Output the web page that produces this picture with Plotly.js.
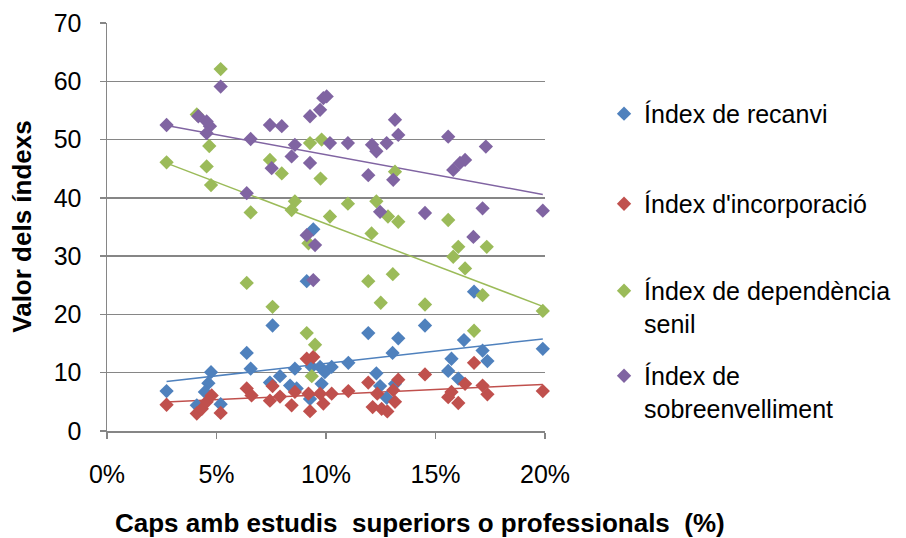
<!DOCTYPE html>
<html>
<head>
<meta charset="utf-8">
<script src="https://cdn.plot.ly/plotly-3.0.1.min.js"></script>
<style>html,body{margin:0;padding:0;background:#fff;}#chart{width:906px;height:538px;}</style>
</head>
<body>
<div id="chart"></div>
<script>
// Índex de recanvi
const recanviX = [2.72,4.75,4.63,4.47,4.1,5.19,6.38,6.56,7.56,7.44,7.9,8.36,8.66,8.58,9.12,9.42,9.35,9.73,9.8,9.27,10.26,9.95,11.02,11.93,12.3,12.47,12.77,13.04,13.3,14.52,15.73,15.58,16.04,16.3,16.76,17.15,17.37,19.9,13.15];
const recanviY = [6.85,10.1,8.2,6.7,4.4,4.6,13.4,10.7,18.1,8.3,9.4,7.8,7.3,10.7,25.7,34.6,11.0,11.0,8.1,5.5,11.0,10.1,11.7,16.8,9.9,7.7,5.7,13.4,15.9,18.1,12.4,10.3,9.0,15.6,23.9,13.8,12.0,14.1,8.1];
// Índex d'incorporació
const incorpX = [2.72,4.1,4.33,4.55,4.78,5.19,6.38,6.6,7.56,7.44,7.9,8.43,8.58,9.12,9.42,9.27,9.2,9.73,9.88,10.26,11.02,11.93,12.34,12.13,12.54,12.8,13.07,13.3,13.15,14.52,15.73,15.58,16.04,16.35,16.76,17.15,17.37,19.9];
const incorpY = [4.5,3.0,3.8,5.0,6.1,3.1,7.3,6.1,7.7,5.2,5.9,4.4,6.7,12.4,12.7,3.4,6.4,6.4,4.7,6.4,6.85,8.3,6.4,4.1,3.8,3.35,7.0,8.8,5.0,9.7,6.7,5.8,4.8,8.1,11.7,7.8,6.3,6.85];
// Índex de dependència senil
const senilX = [2.72,5.19,4.1,4.67,4.55,4.75,6.56,7.44,7.98,8.58,8.43,9.27,9.8,9.75,10.18,13.15,11.0,12.3,12.83,13.3,15.58,6.38,7.56,9.12,9.5,9.35,9.2,12.08,16.04,15.81,17.34,16.35,11.93,13.05,12.5,14.52,17.15,19.9,16.76];
const senilY = [46.1,62.1,54.3,48.9,45.4,42.2,37.5,46.5,44.2,39.4,37.9,49.4,50.0,43.3,36.8,44.5,39.0,39.4,36.8,35.9,36.2,25.4,21.3,16.8,14.8,9.4,32.2,33.9,31.6,29.9,31.6,27.9,25.7,26.9,22.0,21.7,23.3,20.6,17.2];
// Índex de sobreenvelliment
const sobreX = [2.72,5.19,4.17,4.55,4.7,4.55,6.56,7.44,7.98,7.52,6.38,8.58,8.43,9.27,9.27,9.73,9.88,10.03,10.18,11.0,12.1,12.3,12.77,13.15,13.3,11.93,13.07,15.58,17.3,15.81,16.12,16.35,12.47,14.52,17.15,19.9,16.73,9.12,9.5,9.42];
const sobreY = [52.5,59.1,54.0,53.1,52.3,51.1,50.1,52.5,52.3,45.1,40.8,49.1,47.1,46.0,54.0,55.1,57.1,57.4,49.4,49.4,49.1,48.0,49.4,53.4,50.8,43.9,43.1,50.5,48.8,44.8,46.0,46.5,37.6,37.4,38.2,37.8,33.3,33.6,31.9,25.9];

const seriesNames = ["Índex de recanvi", "Índex d'incorporació", "Índex de dependència<br>senil", "Índex de<br>sobreenvelliment"];
const seriesColors = ["#4F81BD", "#C0504D", "#9BBB59", "#8064A2"];
const xTickVals = [0, 5, 10, 15, 20];
const xTickLabels = ["0%", "5%", "10%", "15%", "20%"];
const yTickVals = [0, 10, 20, 30, 40, 50, 60, 70];
const xTitle = 'Caps amb estudis&nbsp; superiors o professionals&nbsp; (%)';
const yTitle = 'Valor dels índexs';

const allX = [recanviX, incorpX, senilX, sobreX];
const allY = [recanviY, incorpY, senilY, sobreY];

function linfit(xs, ys) {
  const n = xs.length;
  let sx = 0, sy = 0, sxx = 0, sxy = 0;
  for (let i = 0; i < n; i++) { sx += xs[i]; sy += ys[i]; sxx += xs[i]*xs[i]; sxy += xs[i]*ys[i]; }
  const b = (n*sxy - sx*sy) / (n*sxx - sx*sx);
  const a = (sy - b*sx) / n;
  const x0 = Math.min(...xs), x1 = Math.max(...xs);
  return {x: [x0, x1], y: [a + b*x0, a + b*x1]};
}

const legendIds = ['legend', 'legend2', 'legend3', 'legend4'];
const traces = [];
for (let i = 0; i < 4; i++) {
  const f = linfit(allX[i], allY[i]);
  traces.push({
    x: f.x, y: f.y, mode: 'lines', type: 'scatter', showlegend: false, hoverinfo: 'skip',
    line: {color: seriesColors[i], width: 1.5}
  });
}
for (let i = 0; i < 4; i++) {
  traces.push({
    x: allX[i], y: allY[i], mode: 'markers', type: 'scatter', name: seriesNames[i],
    legend: legendIds[i], cliponaxis: false,
    marker: {symbol: 'diamond', size: 11, color: seriesColors[i]}
  });
}

const FONT = 'Liberation Sans, Arial, sans-serif';
const legendFont = {family: FONT, size: 25, color: '#000'};
const legendY = [0.831, 0.6636, 0.5019, 0.3439];
const legendX = 0.6667;
function mkLegend(y) {
  return {x: legendX, y: y, xref: 'container', yref: 'container', xanchor: 'left', yanchor: 'top',
          font: legendFont, valign: 'top', bgcolor: 'rgba(0,0,0,0)', borderwidth: 0};
}

const layout = {
  width: 906, height: 538,
  margin: {l: 107, r: 361, t: 23, b: 107},
  paper_bgcolor: '#fff', plot_bgcolor: '#fff',
  font: {family: FONT, size: 25, color: '#000'},
  xaxis: {
    range: [0, 20], tickvals: xTickVals, ticktext: xTickLabels, showgrid: false, zeroline: false, automargin: false,
    showline: true, linecolor: '#868686', linewidth: 1.5, ticks: 'outside', ticklen: 6, tickcolor: '#868686', tickwidth: 1.5,
    ticklabelstandoff: 14, tickfont: {size: 25}
  },
  yaxis: {
    range: [0, 70], tickvals: yTickVals, showgrid: true, gridcolor: '#868686', gridwidth: 1.5, zeroline: false, automargin: false,
    showline: true, linecolor: '#868686', linewidth: 1.5, ticks: 'outside', ticklen: 6, tickcolor: '#868686', tickwidth: 1.5,
    ticklabelstandoff: 13, tickfont: {size: 25}
  },
  legend: mkLegend(legendY[0]),
  legend2: mkLegend(legendY[1]),
  legend3: mkLegend(legendY[2]),
  legend4: mkLegend(legendY[3]),
  annotations: [{
    text: xTitle, xref: 'paper', yref: 'paper',
    x: 0.7135, y: -0.225, xanchor: 'center', yanchor: 'middle', showarrow: false,
    font: {size: 26, weight: 'bold', color: '#000'}
  }, {
    text: yTitle, xref: 'paper', yref: 'paper', textangle: -90,
    x: -0.1947, y: 0.5, xanchor: 'center', yanchor: 'middle', showarrow: false,
    font: {size: 26, weight: 'bold', color: '#000'}
  }]
};

Plotly.newPlot('chart', traces, layout, {displayModeBar: false, staticPlot: true});
</script>
</body>
</html>
